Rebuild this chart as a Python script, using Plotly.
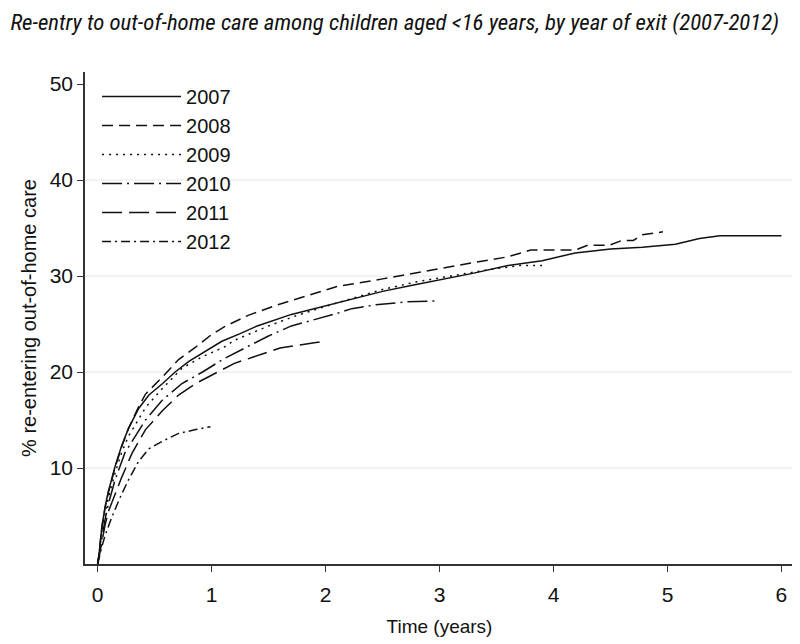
import plotly.graph_objects as go

years = ["2007", "2008", "2009", "2010", "2011", "2012"]

t_2007 = [0, 0.013, 0.037, 0.066, 0.095, 0.154, 0.21, 0.27, 0.36, 0.45, 0.57, 0.68, 0.8, 0.92, 1.09, 1.25, 1.4, 1.7, 2.0, 2.23, 2.5, 2.75, 3.02, 3.3, 3.6, 3.9, 4.19, 4.5, 4.78, 5.07, 5.28, 5.46, 5.7, 6.0]
y_2007 = [0, 1.1, 3.9, 6.0, 7.6, 10.2, 12.3, 14.1, 16.2, 17.6, 18.8, 20.0, 21.1, 22.0, 23.2, 24.0, 24.8, 26.0, 26.9, 27.6, 28.4, 29.0, 29.6, 30.3, 31.1, 31.6, 32.4, 32.8, 33.0, 33.3, 33.9, 34.2, 34.2, 34.2]

t_2008 = [0, 0.013, 0.037, 0.066, 0.095, 0.154, 0.21, 0.27, 0.36, 0.42, 0.57, 0.71, 0.86, 1.0, 1.11, 1.32, 1.58, 1.82, 2.1, 2.5, 2.75, 3.02, 3.3, 3.6, 3.8, 4.19, 4.3, 4.49, 4.6, 4.7, 4.78, 4.96]
y_2008 = [0, 1.1, 3.8, 5.9, 7.5, 10.1, 12.2, 14.1, 16.4, 17.7, 19.5, 21.3, 22.6, 23.9, 24.7, 25.9, 27.0, 27.9, 28.9, 29.7, 30.2, 30.8, 31.4, 32.0, 32.7, 32.7, 33.2, 33.2, 33.7, 33.7, 34.3, 34.6]

t_2009 = [0, 0.013, 0.037, 0.066, 0.095, 0.154, 0.21, 0.27, 0.42, 0.57, 0.74, 0.92, 1.11, 1.2, 1.5, 1.75, 2.1, 2.5, 2.8, 3.1, 3.4, 3.7, 3.94]
y_2009 = [0, 1.0, 3.4, 5.3, 7.0, 9.5, 11.6, 13.3, 16.3, 18.3, 20.4, 21.6, 22.6, 23.3, 24.8, 25.9, 27.2, 28.6, 29.4, 30.0, 30.6, 31.1, 31.1]

t_2010 = [0, 0.013, 0.037, 0.066, 0.095, 0.154, 0.24, 0.42, 0.57, 0.74, 0.92, 1.11, 1.49, 1.7, 2.1, 2.23, 2.44, 2.7, 2.97]
y_2010 = [0, 0.9, 3.0, 4.7, 6.3, 8.8, 11.6, 15.0, 17.1, 18.8, 20.0, 21.4, 23.7, 24.8, 26.1, 26.6, 27.0, 27.3, 27.4]

t_2011 = [0, 0.013, 0.037, 0.066, 0.095, 0.154, 0.21, 0.3, 0.42, 0.57, 0.71, 0.86, 1.11, 1.2, 1.6, 1.93, 2.0]
y_2011 = [0, 0.8, 2.6, 4.1, 5.5, 7.4, 9.0, 11.5, 14.0, 16.0, 17.6, 18.8, 20.4, 20.9, 22.5, 23.1, 23.1]

t_2012 = [0, 0.013, 0.037, 0.066, 0.125, 0.2, 0.27, 0.36, 0.45, 0.57, 0.71, 0.86, 0.99]
y_2012 = [0, 0.7, 1.8, 3.0, 4.9, 7.0, 8.75, 10.7, 12.0, 12.8, 13.6, 14.0, 14.3]

x_ticks = [0, 1, 2, 3, 4, 5, 6]
y_ticks = [10, 20, 30, 40, 50]
grid_levels = [10, 20, 30, 40]

series_t = [t_2007, t_2008, t_2009, t_2010, t_2011, t_2012]
series_y = [y_2007, y_2008, y_2009, y_2010, y_2011, y_2012]
dashes = ["solid", "11px,6px", "2px,5px", "20px,5px,2px,5px", "20px,7px", "9px,4px,2px,4px"]

FONT = "Liberation Sans, Arial, sans-serif"

fig = go.Figure()
for lvl in grid_levels:
    fig.add_shape(type="line", xref="x domain", yref="y", x0=0, x1=1, y0=lvl, y1=lvl,
                  line=dict(color="#e6e6e6", width=1), layer="below")

for name, tx, ty, d in zip(years, series_t, series_y, dashes):
    fig.add_trace(go.Scatter(
        x=tx, y=ty, name=name, mode="lines",
        line=dict(color="#111111", width=1.5, dash=d),
    ))

# page has an 8px body margin, so the paper is 792x636 placed at (8, 8)
fig.update_layout(
    width=792, height=636,
    paper_bgcolor="white", plot_bgcolor="white",
    margin=dict(l=77, r=6, t=64, b=80, autoexpand=False),
    font=dict(family=FONT, size=21, color="#111111"),
    title=dict(
        text="<i>Re-entry to out-of-home care among children aged &lt;16 years, by year of exit (2007-2012)</i>",
        x=0.003, xanchor="left", y=0.978, yanchor="middle",
        font=dict(family="Liberation Sans Narrow, Roboto Condensed, Roboto, sans-serif", size=22.8, color="#111111"),
    ),
    showlegend=True,
    legend=dict(
        x=0.017, y=0.99, xanchor="left", yanchor="top",
        bgcolor="rgba(0,0,0,0)", borderwidth=0,
        font=dict(family=FONT, size=20, color="#111111"),
        itemwidth=79, tracegroupgap=0,
    ),
)
fig.update_xaxes(
    range=[-0.111, 6.11], tickvals=x_ticks, ticktext=[str(v) for v in x_ticks],
    showline=True, linecolor="#333333", linewidth=1.5,
    ticks="outside", ticklen=6, tickcolor="#333333", tickwidth=1,
    ticklabelstandoff=5,
    showgrid=False, zeroline=False,
    title=dict(text="Time (years)", font=dict(size=19), standoff=15),
)
fig.update_yaxes(
    range=[0, 51.25], tickvals=y_ticks, ticktext=[str(v) for v in y_ticks],
    showline=True, linecolor="#333333", linewidth=1.5,
    ticks="outside", ticklen=6, tickcolor="#333333", tickwidth=1,
    ticklabelstandoff=0,
    showgrid=False, zeroline=False,
    title=dict(text="% re-entering out-of-home care", font=dict(size=20), standoff=8),
)

fig.write_html("out.html")
